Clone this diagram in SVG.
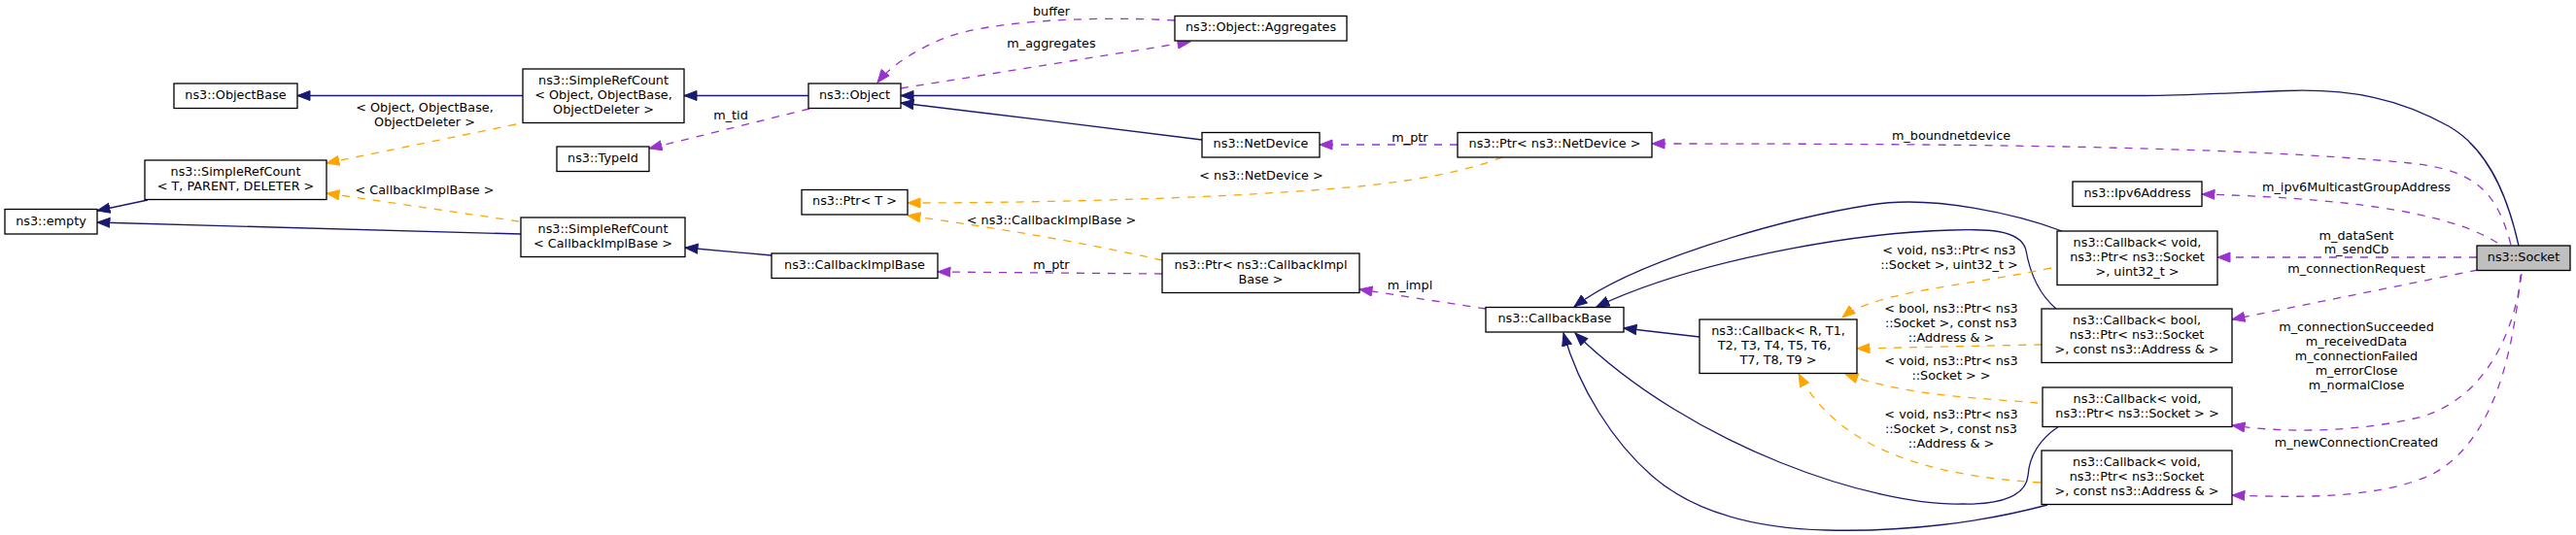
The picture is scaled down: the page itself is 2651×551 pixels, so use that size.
<svg xmlns="http://www.w3.org/2000/svg" width="2651" height="551" viewBox="0 0 2651 551">
<style>
text{font-family:"DejaVu Sans","Liberation Sans",sans-serif;font-size:12.8px;fill:#000;text-anchor:middle}
.box{fill:#fff;stroke:#000;stroke-width:1.3}
.sel{fill:#bfbfbf;stroke:#000;stroke-width:1.3}
.n{fill:none;stroke:#191970;stroke-width:1.3}
.o{fill:none;stroke:#ffa500;stroke-width:1.3;stroke-dasharray:8,8}
.p{fill:none;stroke:#9a32cd;stroke-width:1.3;stroke-dasharray:8,8}
.n{marker-end:url(#mn)}
.o{marker-end:url(#mo)}
.p{marker-end:url(#mp)}
</style>
<defs>
<marker id="mn" markerUnits="userSpaceOnUse" markerWidth="15" markerHeight="12" refX="13.5" refY="5.5" orient="auto"><path d="M0.5,0.5 L13.5,5.5 L0.5,10.5 z" fill="#191970" stroke="#191970" stroke-width="1"/></marker>
<marker id="mo" markerUnits="userSpaceOnUse" markerWidth="15" markerHeight="12" refX="13.5" refY="5.5" orient="auto"><path d="M0.5,0.5 L13.5,5.5 L0.5,10.5 z" fill="#ffa500" stroke="#ffa500" stroke-width="1"/></marker>
<marker id="mp" markerUnits="userSpaceOnUse" markerWidth="15" markerHeight="12" refX="13.5" refY="5.5" orient="auto"><path d="M0.5,0.5 L13.5,5.5 L0.5,10.5 z" fill="#9a32cd" stroke="#9a32cd" stroke-width="1"/></marker>
</defs>
<rect width="2651" height="551" fill="#fff"/>
<g id="connectors">
<!-- inheritance -->
<path class="n" d="M538,98.5 L306,98.5"/>
<path class="n" d="M832,98.5 L704,98.5"/>
<path class="n" d="M1237,144 C1160,134 1010,116 927,106"/>
<path class="n" d="M2592,253 C2578,190 2555,150 2520,130 C2470,102 2420,91 2352,93.5 C2300,95.5 2250,98.5 2205,98.5 L927,98.5"/>
<path class="n" d="M152,206 L100,217"/>
<path class="n" d="M536,241 L100,229"/>
<path class="n" d="M794,263 L705,255"/>
<path class="n" d="M1749,347 L1671,338"/>
<path class="n" d="M2122,238 C2080,222 1990,200 1925,211 C1830,226 1680,270 1620,316"/>
<path class="n" d="M2116,318 C2095,300 2088,275 2085,258 C2080,235 2040,236 2008,237 C1900,240 1740,270 1643,316"/>
<path class="n" d="M2119,439 C2095,455 2088,475 2087,490 C2085,510 2060,520 2020,519 C1930,522 1740,460 1621,343"/>
<path class="n" d="M2107,520 C2040,538 1960,548 1880,546 C1800,544 1740,525 1700,490 C1660,455 1625,400 1609,343"/>
<!-- template instances -->
<path class="o" d="M531,128 L336,168"/>
<path class="o" d="M534,228 L336,199"/>
<path class="o" d="M1546,162 C1500,180 1430,190 1374,194 C1250,205 1050,209 934,209"/>
<path class="o" d="M1196,268 Q1080,242 934,222"/>
<path class="o" d="M2111,276 C2020,295 1930,300 1896,327"/>
<path class="o" d="M2101,355 C2040,356 1960,358 1911,359"/>
<path class="o" d="M2097,415 C2040,410 1960,408 1899,385"/>
<path class="o" d="M2100,497 C1980,490 1890,460 1851,385"/>
<!-- usage -->
<path class="p" d="M927,91 L1225,43"/>
<path class="p" d="M1209,21 C1120,16 1020,22 975,38 C945,50 918,66 903,85"/>
<path class="p" d="M833,112 L668,153"/>
<path class="p" d="M1500,149 L1358,149"/>
<path class="p" d="M1196,282 L965,280"/>
<path class="p" d="M1529,318 L1399,298"/>
<path class="p" d="M2584,252 C2570,200 2550,175 2480,168 C2300,150 2000,148 1700,148"/>
<path class="p" d="M2570,250 C2530,225 2450,205 2266,200"/>
<path class="p" d="M2549,265 L2282,265"/>
<path class="p" d="M2550,278 L2297,329"/>
<path class="p" d="M2595,282 C2585,360 2545,420 2480,432 C2420,445 2350,446 2297,438"/>
<path class="p" d="M2594,283 C2585,380 2560,460 2500,490 C2440,515 2360,512 2297,510"/>
<!-- labels -->
<text x="437" y="114.5">&lt; Object, ObjectBase,</text>
<text x="437" y="129.5">ObjectDeleter &gt;</text>
<text x="437" y="200">&lt; CallbackImplBase &gt;</text>
<text x="752" y="123">m_tid</text>
<text x="1082" y="16">buffer</text>
<text x="1082" y="49">m_aggregates</text>
<text x="1451" y="145.5">m_ptr</text>
<text x="1298" y="185">&lt; ns3::NetDevice &gt;</text>
<text x="1082" y="231">&lt; ns3::CallbackImplBase &gt;</text>
<text x="1082" y="277">m_ptr</text>
<text x="1451" y="298">m_impl</text>
<text x="2008" y="143.5">m_boundnetdevice</text>
<text x="2425" y="197">m_ipv6MulticastGroupAddress</text>
<text x="2425" y="247">m_dataSent</text>
<text x="2425" y="261">m_sendCb</text>
<text x="2425" y="281">m_connectionRequest</text>
<text x="2425" y="341">m_connectionSucceeded</text>
<text x="2425" y="356">m_receivedData</text>
<text x="2425" y="371">m_connectionFailed</text>
<text x="2425" y="386">m_errorClose</text>
<text x="2425" y="401">m_normalClose</text>
<text x="2425" y="460">m_newConnectionCreated</text>
<text x="2006" y="262">&lt; void, ns3::Ptr&lt; ns3</text>
<text x="2006" y="277">::Socket &gt;, uint32_t &gt;</text>
<text x="2008" y="322">&lt; bool, ns3::Ptr&lt; ns3</text>
<text x="2008" y="337">::Socket &gt;, const ns3</text>
<text x="2008" y="352">::Address &amp; &gt;</text>
<text x="2008" y="376">&lt; void, ns3::Ptr&lt; ns3</text>
<text x="2008" y="391">::Socket &gt; &gt;</text>
<text x="2008" y="431">&lt; void, ns3::Ptr&lt; ns3</text>
<text x="2008" y="446">::Socket &gt;, const ns3</text>
<text x="2008" y="461">::Address &amp; &gt;</text>
</g>
<g id="empty"><rect class="box" x="5" y="215.5" width="95" height="25.5"/><text x="52.5" y="231.5">ns3::empty</text></g>
<g id="SimpleRefCountTPD"><rect class="box" x="149" y="165" width="187" height="40.5"/><text x="242.5" y="180.7">ns3::SimpleRefCount</text><text x="242.5" y="195.7">&lt; T, PARENT, DELETER &gt;</text></g>
<g id="ObjectBase"><rect class="box" x="179" y="86" width="127" height="25.5"/><text x="242.5" y="101.7">ns3::ObjectBase</text></g>
<g id="SimpleRefCountObject"><rect class="box" x="538" y="71" width="166" height="55.5"/><text x="621" y="86.7">ns3::SimpleRefCount</text><text x="621" y="101.7">&lt; Object, ObjectBase,</text><text x="621" y="116.7">ObjectDeleter &gt;</text></g>
<g id="TypeId"><rect class="box" x="573" y="151" width="95" height="25.5"/><text x="620.5" y="167">ns3::TypeId</text></g>
<g id="SimpleRefCountCIB"><rect class="box" x="536" y="224" width="169" height="40.5"/><text x="620.5" y="239.7">ns3::SimpleRefCount</text><text x="620.5" y="254.7">&lt; CallbackImplBase &gt;</text></g>
<g id="Object"><rect class="box" x="832" y="86" width="95" height="25.5"/><text x="879.5" y="101.7">ns3::Object</text></g>
<g id="PtrT"><rect class="box" x="825" y="195.5" width="109" height="25.5"/><text x="879.5" y="211.2">ns3::Ptr&lt; T &gt;</text></g>
<g id="CallbackImplBase"><rect class="box" x="794" y="261" width="171" height="25.5"/><text x="879.5" y="276.7">ns3::CallbackImplBase</text></g>
<g id="Aggregates"><rect class="box" x="1209" y="16.5" width="177" height="25.5"/><text x="1297.5" y="32.2">ns3::Object::Aggregates</text></g>
<g id="NetDevice"><rect class="box" x="1237" y="136.5" width="121" height="25.5"/><text x="1297.5" y="152.2">ns3::NetDevice</text></g>
<g id="PtrNetDevice"><rect class="box" x="1500" y="136.5" width="200" height="25.5"/><text x="1600" y="152.2">ns3::Ptr&lt; ns3::NetDevice &gt;</text></g>
<g id="PtrCallbackImplBase"><rect class="box" x="1196" y="261" width="203" height="40.5"/><text x="1297.5" y="276.7">ns3::Ptr&lt; ns3::CallbackImpl</text><text x="1297.5" y="291.7">Base &gt;</text></g>
<g id="CallbackBase"><rect class="box" x="1529" y="316.5" width="142" height="25.5"/><text x="1600" y="332.2">ns3::CallbackBase</text></g>
<g id="CallbackR"><rect class="box" x="1749" y="329" width="162" height="55.5"/><text x="1830" y="344.7">ns3::Callback&lt; R, T1,</text><text x="1826" y="359.7">T2, T3, T4, T5, T6,</text><text x="1830" y="374.7">T7, T8, T9 &gt;</text></g>
<g id="Ipv6Address"><rect class="box" x="2133" y="187" width="133" height="25.5"/><text x="2199.5" y="202.7">ns3::Ipv6Address</text></g>
<g id="CallbackVoidU32"><rect class="box" x="2117" y="238" width="165" height="55.5"/><text x="2199.5" y="253.7">ns3::Callback&lt; void,</text><text x="2199.5" y="268.7">ns3::Ptr&lt; ns3::Socket</text><text x="2199.5" y="283.7">&gt;, uint32_t &gt;</text></g>
<g id="CallbackBool"><rect class="box" x="2101" y="318" width="196" height="55.5"/><text x="2199" y="333.7">ns3::Callback&lt; bool,</text><text x="2199" y="348.7">ns3::Ptr&lt; ns3::Socket</text><text x="2199" y="363.7">&gt;, const ns3::Address &amp; &gt;</text></g>
<g id="CallbackVoidSocket"><rect class="box" x="2102" y="399" width="195" height="40.5"/><text x="2199.5" y="414.7">ns3::Callback&lt; void,</text><text x="2199.5" y="429.7">ns3::Ptr&lt; ns3::Socket &gt; &gt;</text></g>
<g id="CallbackVoidAddress"><rect class="box" x="2101" y="464" width="196" height="55.5"/><text x="2199" y="479.7">ns3::Callback&lt; void,</text><text x="2199" y="494.7">ns3::Ptr&lt; ns3::Socket</text><text x="2199" y="509.7">&gt;, const ns3::Address &amp; &gt;</text></g>
<g id="Socket"><rect class="sel" x="2549" y="253" width="96" height="25.5"/><text x="2597" y="268.7">ns3::Socket</text></g>
</svg>
